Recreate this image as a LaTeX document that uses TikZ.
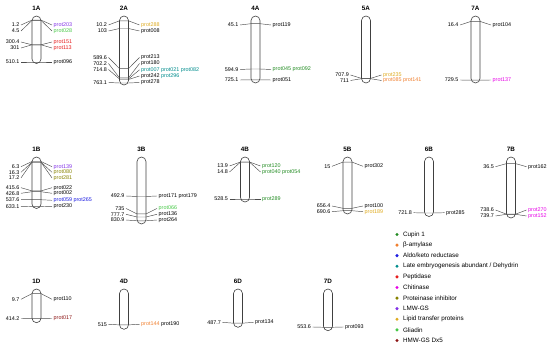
\documentclass[tikz,border=0pt]{standalone}
\usepackage{fontspec}
\setmainfont{Liberation Sans}
\usetikzlibrary{positioning}

\definecolor{cupin}{RGB}{34,139,34}
\definecolor{amyl}{RGB}{240,128,48}
\definecolor{aldo}{RGB}{30,30,225}
\definecolor{lea}{RGB}{0,140,140}
\definecolor{pept}{RGB}{230,30,30}
\definecolor{chit}{RGB}{230,0,230}
\definecolor{inhib}{RGB}{135,130,0}
\definecolor{lmw}{RGB}{130,50,230}
\definecolor{lipid}{RGB}{222,170,30}
\definecolor{gliadin}{RGB}{70,200,70}
\definecolor{hmw}{RGB}{140,20,20}

\begin{document}
\begin{tikzpicture}[x=1pt, y=-1pt,
    chrom/.style={rectangle, draw=black!75, line width=0.6pt, rounded corners=4.5pt, minimum width=9pt, inner sep=0pt, outer sep=0pt, anchor=north},
    ttl/.style={font=\fontsize{6.3}{7}\selectfont\bfseries, inner sep=1pt},
    num/.style={anchor=east, font=\fontsize{5.4}{6}\selectfont, inner sep=1.5pt},
    prot/.style={anchor=west, font=\fontsize{5.4}{6}\selectfont, inner sep=1.5pt},
    mk/.style={draw=black!70, line width=0.45pt},
    legdot/.style={circle, fill=#1, minimum size=3.4pt, inner sep=0pt},
    legtxt/.style={anchor=west, font=\fontsize{6.3}{7}\selectfont, inner sep=0pt}
]
    \useasboundingbox (0,0) rectangle (550,344);

    % 1A
    \node[chrom, minimum height=47.5pt] (chr1A) at (36.5,16) {};
    \node[ttl, above=4.5pt of chr1A] (t1A) {1A};
    \node[num] (n1Aa) at (21,25) {1.2};
    \node[prot, text=lmw] (p1Aa) at (52,25) {prot203};
    \node[num] (n1Ab) at (21,31) {4.5};
    \node[prot, text=gliadin] (p1Ab) at (52,31) {prot028};
    \node[num] (n1Ac) at (21,42) {300.4};
    \node[prot, text=pept] (p1Ac) at (52,42) {prot151};
    \node[num] (n1Ad) at (21,48) {301};
    \node[prot, text=pept] (p1Ad) at (52,48) {prot113};
    \node[num] (n1Ae) at (21,62) {510.1};
    \node[prot] (p1Ae) at (52,62) {prot096};
    \draw[mk] (n1Aa.east) -- (chr1A.west |- 0,20.1) -- (chr1A.east |- 0,20.1) -- (p1Aa.west);
    \draw[mk] (n1Ab.east) -- (chr1A.west |- 0,20.4) -- (chr1A.east |- 0,20.4) -- (p1Ab.west);
    \draw[mk] (n1Ac.east) -- (chr1A.west |- 0,44.8) -- (chr1A.east |- 0,44.8) -- (p1Ac.west);
    \draw[mk] (n1Ad.east) -- (chr1A.west |- 0,44.8) -- (chr1A.east |- 0,44.8) -- (p1Ad.west);
    \draw[mk] (n1Ae.east) -- (chr1A.west |- 0,62) -- (chr1A.east |- 0,62) -- (p1Ae.west);

    % 2A
    \node[chrom, minimum height=69pt] (chr2A) at (124,16) {};
    \node[ttl, above=4.5pt of chr2A] (t2A) {2A};
    \node[num] (n2Aa) at (108.5,25) {10.2};
    \node[prot, text=lipid] (p2Aa) at (139.5,25) {prot288};
    \node[num] (n2Ab) at (108.5,31) {103};
    \node[prot] (p2Ab) at (139.5,31) {prot008};
    \node[num] (n2Ac) at (108.5,57.5) {589.6};
    \node[prot] (p2Ac) at (139.5,57.5) {prot213};
    \node[num] (n2Ad) at (108.5,63.5) {702.2};
    \node[prot] (p2Ad) at (139.5,63.5) {prot180};
    \node[num] (n2Ae) at (108.5,69.5) {714.8};
    \node[prot, text=lea] (p2Ae) at (139.5,69.8) {prot007 prot021 prot082};
    \node[prot] (p2Af) at (139.5,76) {prot242 \textcolor{lea}{prot296}};
    \node[num] (n2Ag) at (108.5,82.5) {763.1};
    \node[prot] (p2Ag) at (139.5,82.5) {prot278};
    \draw[mk] (n2Aa.east) -- (chr2A.west |- 0,20.8) -- (chr2A.east |- 0,20.8) -- (p2Aa.west);
    \draw[mk] (n2Ab.east) -- (chr2A.west |- 0,28.5) -- (chr2A.east |- 0,28.5) -- (p2Ab.west);
    \draw[mk] (n2Ac.east) -- (chr2A.west |- 0,68.6) -- (chr2A.east |- 0,68.6) -- (p2Ac.west);
    \draw[mk] (n2Ad.east) -- (chr2A.west |- 0,77.9) -- (chr2A.east |- 0,77.9) -- (p2Ad.west);
    \draw[mk] (n2Ae.east) -- (chr2A.west |- 0,79) -- (chr2A.east |- 0,79) -- (p2Ae.west);
    \draw[mk] (chr2A.west |- 0,79.5) -- (chr2A.east |- 0,79.5) -- (p2Af.west);
    \draw[mk] (n2Ag.east) -- (chr2A.west |- 0,83) -- (chr2A.east |- 0,83) -- (p2Ag.west);

    % 4A
    \node[chrom, minimum height=67pt] (chr4A) at (255.5,16) {};
    \node[ttl, above=4.5pt of chr4A] (t4A) {4A};
    \node[num] (n4Aa) at (240,25) {45.1};
    \node[prot] (p4Aa) at (271,25) {prot119};
    \node[num] (n4Ab) at (240,69.5) {594.9};
    \node[prot, text=cupin] (p4Ab) at (271,69.5) {prot045 prot092};
    \node[num] (n4Ac) at (240,80) {725.1};
    \node[prot] (p4Ac) at (271,80) {prot051};
    \draw[mk] (n4Aa.east) -- (chr4A.west |- 0,23.7) -- (chr4A.east |- 0,23.7) -- (p4Aa.west);
    \draw[mk] (n4Ab.east) -- (chr4A.west |- 0,69) -- (chr4A.east |- 0,69) -- (p4Ab.west);
    \draw[mk] (n4Ac.east) -- (chr4A.west |- 0,79.8) -- (chr4A.east |- 0,79.8) -- (p4Ac.west);

    % 5A
    \node[chrom, minimum height=67pt] (chr5A) at (366,16) {};
    \node[ttl, above=4.5pt of chr5A] (t5A) {5A};
    \node[num] (n5Aa) at (350.5,75) {707.9};
    \node[prot, text=lipid] (p5Aa) at (381.5,75) {prot235};
    \node[num] (n5Ab) at (350.5,80.5) {711};
    \node[prot, text=amyl] (p5Ab) at (381.5,80.5) {prot085 prot141};
    \draw[mk] (n5Aa.east) -- (chr5A.west |- 0,78.4) -- (chr5A.east |- 0,78.4) -- (p5Aa.west);
    \draw[mk] (n5Ab.east) -- (chr5A.west |- 0,78.7) -- (chr5A.east |- 0,78.7) -- (p5Ab.west);

    % 7A
    \node[chrom, minimum height=67pt] (chr7A) at (475.5,16) {};
    \node[ttl, above=4.5pt of chr7A] (t7A) {7A};
    \node[num] (n7Aa) at (460,25) {16.4};
    \node[prot] (p7Aa) at (491,25) {prot104};
    \node[num] (n7Ab) at (460,80) {729.5};
    \node[prot, text=chit] (p7Ab) at (491,80) {prot137};
    \draw[mk] (n7Aa.east) -- (chr7A.west |- 0,21.4) -- (chr7A.east |- 0,21.4) -- (p7Aa.west);
    \draw[mk] (n7Ab.east) -- (chr7A.west |- 0,80.2) -- (chr7A.east |- 0,80.2) -- (p7Ab.west);

    % 1B
    \node[chrom, minimum height=51.5pt] (chr1B) at (36.5,157) {};
    \node[ttl, above=4.5pt of chr1B] (t1B) {1B};
    \node[num] (n1Ba) at (21,166.7) {6.3};
    \node[prot, text=lmw] (p1Ba) at (52,166.7) {prot139};
    \node[num] (n1Bb) at (21,172.3) {16.3};
    \node[prot, text=inhib] (p1Bb) at (52,172.3) {prot080};
    \node[num] (n1Bc) at (21,177.9) {17.2};
    \node[prot, text=inhib] (p1Bc) at (52,177.9) {prot281};
    \node[num] (n1Bd) at (21,187.7) {415.6};
    \node[prot] (p1Bd) at (52,187.7) {prot022};
    \node[num] (n1Be) at (21,193.3) {426.8};
    \node[prot] (p1Be) at (52,193.3) {prot002};
    \node[num] (n1Bf) at (21,199.7) {537.6};
    \node[prot, text=aldo] (p1Bf) at (52,200.3) {prot059 prot265};
    \node[num] (n1Bg) at (21,206.3) {633.1};
    \node[prot] (p1Bg) at (52,206.3) {prot230};
    \draw[mk] (n1Ba.east) -- (chr1B.west |- 0,161.5) -- (chr1B.east |- 0,161.5) -- (p1Ba.west);
    \draw[mk] (n1Bb.east) -- (chr1B.west |- 0,162.2) -- (chr1B.east |- 0,162.2) -- (p1Bb.west);
    \draw[mk] (n1Bc.east) -- (chr1B.west |- 0,162.2) -- (chr1B.east |- 0,162.2) -- (p1Bc.west);
    \draw[mk] (n1Bd.east) -- (chr1B.west |- 0,190.9) -- (chr1B.east |- 0,190.9) -- (p1Bd.west);
    \draw[mk] (n1Be.east) -- (chr1B.west |- 0,191.7) -- (chr1B.east |- 0,191.7) -- (p1Be.west);
    \draw[mk] (n1Bf.east) -- (chr1B.west |- 0,199.7) -- (chr1B.east |- 0,199.7) -- (p1Bf.west);
    \draw[mk] (n1Bg.east) -- (chr1B.west |- 0,206.6) -- (chr1B.east |- 0,206.6) -- (p1Bg.west);

    % 3B
    \node[chrom, minimum height=67pt] (chr3B) at (141.5,157) {};
    \node[ttl, above=4.5pt of chr3B] (t3B) {3B};
    \node[num] (n3Ba) at (126,196) {492.9};
    \node[prot] (p3Ba) at (157,196) {prot171 prot179};
    \node[num] (n3Bb) at (126,208.5) {735};
    \node[prot, text=gliadin] (p3Bb) at (157,208.5) {prot066};
    \node[num] (n3Bc) at (126,214.3) {777.7};
    \node[prot] (p3Bc) at (157,214.3) {prot136};
    \node[num] (n3Bd) at (126,220) {830.9};
    \node[prot] (p3Bd) at (157,220) {prot264};
    \draw[mk] (n3Ba.east) -- (chr3B.west |- 0,196.5) -- (chr3B.east |- 0,196.5) -- (p3Ba.west);
    \draw[mk] (n3Bb.east) -- (chr3B.west |- 0,213.9) -- (chr3B.east |- 0,213.9) -- (p3Bb.west);
    \draw[mk] (n3Bc.east) -- (chr3B.west |- 0,217) -- (chr3B.east |- 0,217) -- (p3Bc.west);
    \draw[mk] (n3Bd.east) -- (chr3B.west |- 0,220.8) -- (chr3B.east |- 0,220.8) -- (p3Bd.west);

    % 4B
    \node[chrom, minimum height=45pt] (chr4B) at (245,157) {};
    \node[ttl, above=4.5pt of chr4B] (t4B) {4B};
    \node[num] (n4Ba) at (229.5,166) {13.9};
    \node[prot, text=cupin] (p4Ba) at (260.5,166) {prot120};
    \node[num] (n4Bb) at (229.5,172) {14.8};
    \node[prot, text=cupin] (p4Bb) at (260.5,172) {prot040 prot054};
    \node[num] (n4Bc) at (229.5,199) {528.5};
    \node[prot, text=cupin] (p4Bc) at (260.5,199) {prot289};
    \draw[mk] (n4Ba.east) -- (chr4B.west |- 0,162) -- (chr4B.east |- 0,162) -- (p4Ba.west);
    \draw[mk] (n4Bb.east) -- (chr4B.west |- 0,162.1) -- (chr4B.east |- 0,162.1) -- (p4Bb.west);
    \draw[mk] (n4Bc.east) -- (chr4B.west |- 0,199) -- (chr4B.east |- 0,199) -- (p4Bc.west);

    % 5B
    \node[chrom, minimum height=57pt] (chr5B) at (347.5,157) {};
    \node[ttl, above=4.5pt of chr5B] (t5B) {5B};
    \node[num] (n5Ba) at (332,166.3) {15};
    \node[prot] (p5Ba) at (363,166.3) {prot302};
    \node[num] (n5Bb) at (332,206) {656.4};
    \node[prot] (p5Bb) at (363,206) {prot100};
    \node[num] (n5Bc) at (332,211.7) {690.6};
    \node[prot, text=lipid] (p5Bc) at (363,211.7) {prot189};
    \draw[mk] (n5Ba.east) -- (chr5B.west |- 0,162.1) -- (chr5B.east |- 0,162.1) -- (p5Ba.west);
    \draw[mk] (n5Bb.east) -- (chr5B.west |- 0,208.3) -- (chr5B.east |- 0,208.3) -- (p5Bb.west);
    \draw[mk] (n5Bc.east) -- (chr5B.west |- 0,210.7) -- (chr5B.east |- 0,210.7) -- (p5Bc.west);

    % 6B
    \node[chrom, minimum height=59.5pt] (chr6B) at (429,157) {};
    \node[ttl, above=4.5pt of chr6B] (t6B) {6B};
    \node[num] (n6Ba) at (413.5,212.7) {721.8};
    \node[prot] (p6Ba) at (444.5,212.7) {prot285};
    \draw[mk] (n6Ba.east) -- (chr6B.west |- 0,213) -- (chr6B.east |- 0,213) -- (p6Ba.west);

    % 7B
    \node[chrom, minimum height=61pt] (chr7B) at (511,157) {};
    \node[ttl, above=4.5pt of chr7B] (t7B) {7B};
    \node[num] (n7Ba) at (495.5,166.7) {36.5};
    \node[prot] (p7Ba) at (526.5,166.7) {prot162};
    \node[num] (n7Bb) at (495.5,210) {738.6};
    \node[prot, text=chit] (p7Bb) at (526.5,210) {prot270};
    \node[num] (n7Bc) at (495.5,216) {739.7};
    \node[prot, text=chit] (p7Bc) at (526.5,216) {prot152};
    \draw[mk] (n7Ba.east) -- (chr7B.west |- 0,163.6) -- (chr7B.east |- 0,163.6) -- (p7Ba.west);
    \draw[mk] (n7Bb.east) -- (chr7B.west |- 0,214.2) -- (chr7B.east |- 0,214.2) -- (p7Bb.west);
    \draw[mk] (n7Bc.east) -- (chr7B.west |- 0,214.3) -- (chr7B.east |- 0,214.3) -- (p7Bc.west);

    % 1D
    \node[chrom, minimum height=33.7pt] (chr1D) at (36.5,289) {};
    \node[ttl, above=4.5pt of chr1D] (t1D) {1D};
    \node[num] (n1Da) at (21,299.3) {9.7};
    \node[prot] (p1Da) at (52,299.3) {prot110};
    \node[num] (n1Db) at (21,318.5) {414.2};
    \node[prot, text=hmw] (p1Db) at (52,318.5) {prot017};
    \draw[mk] (n1Da.east) -- (chr1D.west |- 0,293.6) -- (chr1D.east |- 0,293.6) -- (p1Da.west);
    \draw[mk] (n1Db.east) -- (chr1D.west |- 0,318.7) -- (chr1D.east |- 0,318.7) -- (p1Db.west);

    % 4D
    \node[chrom, minimum height=40.3pt] (chr4D) at (124,289) {};
    \node[ttl, above=4.5pt of chr4D] (t4D) {4D};
    \node[num] (n4Da) at (108.5,324.3) {515};
    \node[prot] (p4Da) at (139.5,324.3) {\textcolor{amyl}{prot144} prot190};
    \draw[mk] (n4Da.east) -- (chr4D.west |- 0,324.9) -- (chr4D.east |- 0,324.9) -- (p4Da.west);

    % 6D
    \node[chrom, minimum height=38.3pt] (chr6D) at (238,289) {};
    \node[ttl, above=4.5pt of chr6D] (t6D) {6D};
    \node[num] (n6Da) at (222.5,322.3) {487.7};
    \node[prot] (p6Da) at (253.5,322.3) {prot134};
    \draw[mk] (n6Da.east) -- (chr6D.west |- 0,323.2) -- (chr6D.east |- 0,323.2) -- (p6Da.west);

    % 7D
    \node[chrom, minimum height=41.7pt] (chr7D) at (328,289) {};
    \node[ttl, above=4.5pt of chr7D] (t7D) {7D};
    \node[num] (n7Da) at (312.5,327) {553.6};
    \node[prot] (p7Da) at (343.5,327) {prot093};
    \draw[mk] (n7Da.east) -- (chr7D.west |- 0,327.3) -- (chr7D.east |- 0,327.3) -- (p7Da.west);

    % legend
    \node[legdot=cupin] (k1) at (397,234.5) {};
    \node[legtxt, right=4pt of k1] (l1) {Cupin 1};
    \node[legdot=amyl, below=6.8pt of k1] (k2) {};
    \node[legtxt, right=4pt of k2] (l2) {β-amylase};
    \node[legdot=aldo, below=6.8pt of k2] (k3) {};
    \node[legtxt, right=4pt of k3] (l3) {Aldo/keto reductase};
    \node[legdot=lea, below=6.8pt of k3] (k4) {};
    \node[legtxt, right=4pt of k4] (l4) {Late embryogenesis abundant / Dehydrin};
    \node[legdot=pept, below=6.8pt of k4] (k5) {};
    \node[legtxt, right=4pt of k5] (l5) {Peptidase};
    \node[legdot=chit, below=6.8pt of k5] (k6) {};
    \node[legtxt, right=4pt of k6] (l6) {Chitinase};
    \node[legdot=inhib, below=6.8pt of k6] (k7) {};
    \node[legtxt, right=4pt of k7] (l7) {Proteinase inhibitor};
    \node[legdot=lmw, below=6.8pt of k7] (k8) {};
    \node[legtxt, right=4pt of k8] (l8) {LMW-GS};
    \node[legdot=lipid, below=6.8pt of k8] (k9) {};
    \node[legtxt, right=4pt of k9] (l9) {Lipid transfer proteins};
    \node[legdot=gliadin, below=6.8pt of k9] (k10) {};
    \node[legtxt, right=4pt of k10] (l10) {Gliadin};
    \node[legdot=hmw, below=6.8pt of k10] (k11) {};
    \node[legtxt, right=4pt of k11] (l11) {HMW-GS Dx5};
\end{tikzpicture}
\end{document}
